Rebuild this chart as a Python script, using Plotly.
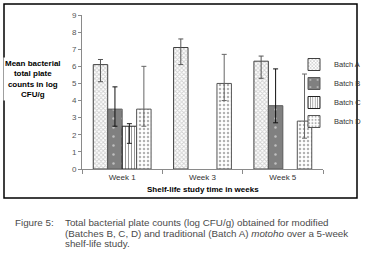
import plotly.graph_objects as go

weeks = ["Week 1", "Week 3", "Week 5"]
batches = ["Batch A", "Batch B", "Batch C", "Batch D"]
values = {
    "Batch A": [6.1, 7.1, 6.3],
    "Batch B": [3.5, None, 3.7],
    "Batch C": [2.5, None, None],
    "Batch D": [3.5, 5.0, 2.8],
}
err_plus = {
    "Batch A": [0.3, 0.5, 0.3],
    "Batch B": [1.3, 0, 2.15],
    "Batch C": [0.15, 0, 0],
    "Batch D": [2.5, 1.7, 2.75],
}
err_minus = {
    "Batch A": [1.0, 1.0, 1.0],
    "Batch B": [1.0, 0, 1.0],
    "Batch C": [1.0, 0, 0],
    "Batch D": [1.0, 1.0, 1.0],
}
y_ticks = list(range(0, 10))

styles = {
    "Batch A": dict(color="white", line=dict(color="#404040", width=1),
                    pattern=dict(shape="x", size=3, fgcolor="#a0a0a0", bgcolor="white", solidity=0.5)),
    "Batch B": dict(color="#808080", line=dict(color="#5a5a5a", width=1),
                    pattern=dict(shape=".", size=9, fgcolor="white", bgcolor="#808080", solidity=0.06)),
    "Batch C": dict(color="white", line=dict(color="#222222", width=1),
                    pattern=dict(shape="|", size=3, fgcolor="#333333", bgcolor="white", solidity=0.35)),
    "Batch D": dict(color="white", line=dict(color="#555555", width=1),
                    pattern=dict(shape=".", size=4, fgcolor="#666666", bgcolor="white", solidity=0.3)),
}
err_colors = {"Batch A": "#555555", "Batch B": "#111111", "Batch C": "#222222", "Batch D": "#666666"}

W, H = 365, 255
L, R, T, B = 82, 323, 15, 169


def px(x):
    return (x - L) / (R - L)


def py(y):
    return (B - y) / (B - T)


fig = go.Figure()
for b in batches:
    fig.add_trace(go.Bar(
        name=b, x=weeks, y=values[b], marker=styles[b],
        error_y=dict(type="data", symmetric=False, array=err_plus[b], arrayminus=err_minus[b],
                     color=err_colors[b], thickness=1, width=2.5),
    ))

font_main = "Liberation Sans, Arial, sans-serif"

fig.update_layout(
    width=W, height=H,
    margin=dict(l=L, r=W - R, t=T, b=H - B, pad=0, autoexpand=False),
    paper_bgcolor="white", plot_bgcolor="white",
    barmode="group", bargap=0.28, bargroupgap=0,
    showlegend=True,
    legend=dict(x=px(294), y=py(50), xanchor="left", yanchor="top",
                font=dict(family=font_main, size=7.5, color="#333333"),
                itemwidth=30, tracegroupgap=0, bgcolor="rgba(0,0,0,0)"),
    font=dict(family=font_main, size=8, color="#404040"),
)
fig.update_yaxes(range=[0, 9], tickvals=y_ticks, showgrid=False, showline=True,
                 linecolor="#8a8a8a", linewidth=1, ticks="outside", ticklen=3,
                 tickcolor="#8a8a8a", tickfont=dict(size=8, color="#555555"), zeroline=False)
fig.update_xaxes(showgrid=False, showline=True, linecolor="#8a8a8a", linewidth=1,
                 ticks="outside", tickson="boundaries", ticklen=4, tickcolor="#8a8a8a",
                 tickfont=dict(size=8, color="#333333"))

# Outer frame
fig.add_shape(type="rect", xref="paper", yref="paper", x0=px(4), x1=px(357), y0=py(198), y1=py(4),
              line=dict(color="black", width=1.5), fillcolor="rgba(0,0,0,0)", layer="below")

# Axis titles
fig.add_annotation(text="<b>Mean bacterial<br>total plate<br>counts in log<br>CFU/g</b>",
                   xref="paper", yref="paper", x=px(33), y=py(78.5), showarrow=False,
                   xanchor="center", yanchor="middle", align="center", bgcolor="white",
                   font=dict(family=font_main, size=8, color="black"))
fig.add_annotation(text="<b>Shelf-life study time in weeks</b>",
                   xref="paper", yref="paper", x=px(203), y=py(190), showarrow=False,
                   xanchor="center", yanchor="middle",
                   font=dict(family=font_main, size=8, color="black"))

# Caption
cap_color = "#4a4a4a"
cap_size = 9.8
fig.add_annotation(text="Figure 5:", xref="paper", yref="paper", x=px(13), y=py(222.7),
                   showarrow=False, xanchor="left", yanchor="middle",
                   font=dict(family=font_main, size=cap_size, color=cap_color))
cap_lines = [
    "Total bacterial plate counts (log CFU/g) obtained for modified",
    "(Batches B, C, D) and traditional (Batch A) <i>motoho</i> over a 5-week",
    "shelf-life study.",
]
for i, line in enumerate(cap_lines):
    fig.add_annotation(text=line, xref="paper", yref="paper", x=px(63), y=py(222.7 + 10.6 * i),
                       showarrow=False, xanchor="left", yanchor="middle",
                       font=dict(family=font_main, size=cap_size, color=cap_color))

fig.write_html("out.html", config={"displayModeBar": False},
               post_script="document.body.style.margin='0';")
